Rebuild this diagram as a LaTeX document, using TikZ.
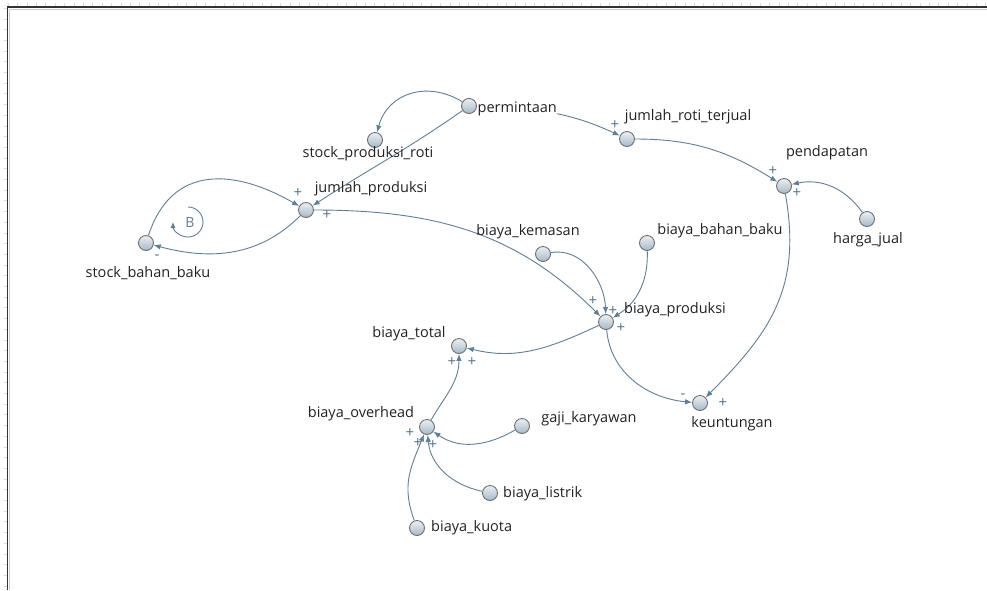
\documentclass[tikz,border=0pt]{standalone}
\usepackage{fontspec}
\setmainfont{Open Sans}
\usetikzlibrary{arrows.meta}
\definecolor{lk}{HTML}{5F7F96}
\definecolor{sg}{HTML}{4F7490}
\definecolor{tx}{HTML}{222222}
\definecolor{rim}{HTML}{6A6F74}
\tikzset{
  var/.style={circle, minimum size=15pt, inner sep=0pt, draw=rim, line width=0.9pt,
              top color=white!70!lk!40, bottom color=lk!55!white},
  lbl/.style={font=\fontsize{14.5}{16}\selectfont, text=tx, inner sep=0pt, anchor=base},
  lblw/.style={lbl, anchor=base west},
  sgn/.style={font=\fontsize{15}{16}\selectfont, text=sg, inner sep=0pt},
  link/.style={draw=lk, line width=0.9pt, -{Latex[length=7pt,width=5.5pt]}},
}
\begin{document}
\begin{tikzpicture}[x=1pt,y=1pt]
\useasboundingbox (0,0) rectangle (987,-590);
\fill[white] (0,0) rectangle (987,-590);
% frame / rulers
\foreach \i in {0,...,104} {\draw[black!15, line width=0.4pt] (9.4*\i+8,-3) -- (9.4*\i+8,-6);}
\foreach \i in {0,...,54} {\draw[black!15, line width=0.4pt] (3.5,-10.7*\i-8) -- (6.5,-10.7*\i-8);}
\draw[black!80, line width=1.5pt] (7.5,-590) -- (7.5,-7.2) -- (987,-7.2);
\draw[black!20, line width=0.6pt] (9,-590) -- (9,-8.8) -- (987,-8.8);

% variables
\node[var] (perm) at (469,-106) {};
\node[var] (spr)  at (375,-140) {};
\node[var] (jp)   at (306,-210) {};
\node[var] (sbb)  at (146,-243) {};
\node[var] (jrt)  at (627,-139) {};
\node[var] (pend) at (784,-186) {};
\node[var] (hj)   at (867,-219) {};
\node[var] (bk)   at (543,-254) {};
\node[var] (bbb)  at (647,-243) {};
\node[var] (bp)   at (606,-322) {};
\node[var] (bt)   at (459,-346) {};
\node[var] (bo)   at (427,-427) {};
\node[var] (gk)   at (522,-426) {};
\node[var] (ku)   at (700,-403) {};
\node[var] (bl)   at (490,-493) {};
\node[var] (bq)   at (417,-528) {};

% links
\draw[link] (perm) to[out=148,in=75,looseness=1.15] (spr);
\draw[link] (perm) to[out=215,in=33] (jp);
\draw[link] (perm) to[out=-2,in=155] (jrt);
\draw[link] (jrt) to[out=0,in=148] (pend);
\draw[link] (hj) to[out=125,in=12] (pend);
\draw[link] (pend) to[out=-80,in=45,looseness=1.1] (ku);
\draw[link] (bp) to[out=-85,in=175] (ku);
\draw[link] (bp) to[out=205,in=-14] (bt);
\draw[link] (bo) to[out=60,in=-90] (bt);
\draw[link] (gk) to[out=210,in=-35] (bo);
\draw[link] (bl) to[out=168,in=-85] (bo);
\draw[link] (bq) to[out=110,in=-112,looseness=1.1] (bo);
\draw[link] (jp) to[out=0,in=135] (bp);
\draw[link] (bk) to[out=10,in=92] (bp);
\draw[link] (bbb) to[out=-88,in=32] (bp);
\draw[link] (sbb) to[out=72,in=150,looseness=1.25] (jp);
\draw[link] (jp) to[out=-135,in=-15] (sbb);

% loop marker
\draw[draw=lk, line width=0.9pt, -{Latex[length=6pt,width=5pt]}] (188,-207) arc[start angle=90,end angle=-180,radius=15];
\node[font=\fontsize{14}{15}\selectfont, text=lk] (loopB) at (190,-222) {B};

% labels
\node[lblw, fill=white, inner sep=0.5pt] (l-perm) at (477,-112) {permintaan};
\node[lbl] (l-spr)  at (368,-157) {stock\_produksi\_roti};
\node[lbl] (l-jp)   at (371,-192) {jumlah\_produksi};
\node[lbl] (l-sbb)  at (148,-277) {stock\_bahan\_baku};
\node[lbl] (l-jrt)  at (688,-120) {jumlah\_roti\_terjual};
\node[lbl] (l-pend) at (827,-156) {pendapatan};
\node[lbl] (l-hj)   at (868,-243) {harga\_jual};
\node[lbl] (l-bk)   at (528,-235) {biaya\_kemasan};
\node[lbl] (l-bbb)  at (720,-234) {biaya\_bahan\_baku};
\node[lbl] (l-bp)   at (675,-313) {biaya\_produksi};
\node[lbl] (l-bt)   at (409,-337) {biaya\_total};
\node[lbl] (l-bo)   at (361,-417) {biaya\_overhead};
\node[lbl] (l-gk)   at (589,-422) {gaji\_karyawan};
\node[lbl] (l-ku)   at (732,-427) {keuntungan};
\node[lblw] (l-bl)  at (503,-497) {biaya\_listrik};
\node[lblw] (l-bq)  at (431,-531) {biaya\_kuota};

% polarity signs
\node[sgn] (s1)  at (298,-193) {+};
\node[sgn] (s2)  at (327,-215) {+};
\node[sgn] (s3)  at (157,-257) {-};
\node[sgn] (s4)  at (615,-125) {+};
\node[sgn] (s5)  at (773,-171) {+};
\node[sgn] (s6)  at (797,-193) {+};
\node[sgn] (s7)  at (593,-301) {+};
\node[sgn] (s8)  at (613,-311) {+};
\node[sgn] (s9)  at (621,-328) {+};
\node[sgn] (s10) at (452,-362) {+};
\node[sgn] (s11) at (472,-362) {+};
\node[sgn] (s12) at (410,-433) {+};
\node[sgn] (s13) at (418,-443) {+};
\node[sgn] (s14) at (433,-445) {+};
\node[sgn] (s15) at (683,-396) {-};
\node[sgn] (s16) at (723,-403) {+};
\end{tikzpicture}
\end{document}
